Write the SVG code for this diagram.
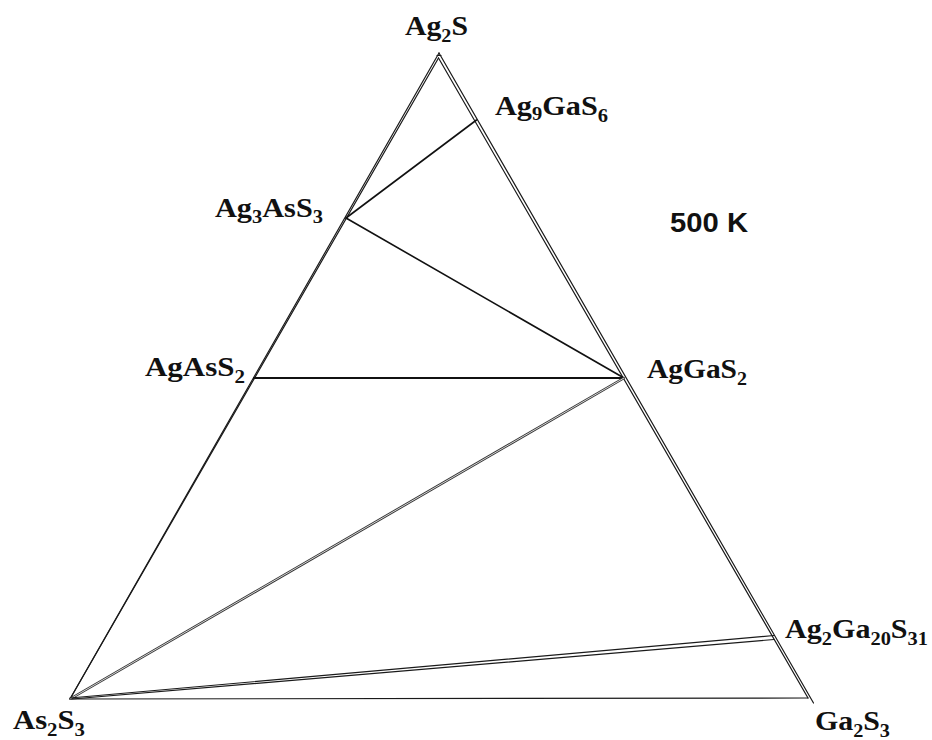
<svg xmlns="http://www.w3.org/2000/svg" width="932" height="740" viewBox="0 0 932 740">
<style>
.lbl{font-family:"Liberation Serif","Times New Roman",serif;font-weight:bold;font-size:28px;fill:#111}
.sub{font-size:19px}
.temp{font-family:"Liberation Sans",Arial,sans-serif;font-weight:bold;font-size:27px;fill:#111}
.edge{fill:none;stroke:#1a1a1a;stroke-width:1.2;stroke-linecap:round}
.tie{fill:none;stroke:#111;stroke-width:1.6;stroke-linecap:round}
.tieb{fill:none;stroke:#111;stroke-width:2.2}
.dblo{fill:none;stroke:#333;stroke-width:2.6}
.dbli{fill:none;stroke:#fff;stroke-width:0.8}
</style>
<rect width="932" height="740" fill="#fff"/>
<g id="connectors">
  <!-- triangle outer edges -->
  <path class="edge" d="M439,53 L70,699"/>
  <path class="edge" d="M439,53 L813.5,703"/>
  <!-- triangle inner edges -->
  <path class="edge" d="M438.5,58 L70,699"/>
  <path class="edge" d="M438.5,58 L808,698"/>
  <path class="edge" d="M437,55.5 L441,55.5"/>
  <!-- bottom edge -->
  <path class="edge" d="M70,699 L808,698"/>
  <!-- tie lines -->
  <path class="tie" d="M476.5,120 L346,218"/>
  <path class="tie" d="M346,218 L624,378"/>
  <path class="tieb" d="M253,378 L624,378"/>
  <path class="dblo" d="M624,378 L70,699"/>
  <path class="dbli" d="M624,378 L70,699"/>
  <path class="edge" d="M70,698 L774,635.5"/>
  <path class="edge" d="M72,699 L774,639.5"/>
</g>
<g id="Ag2S"><text class="lbl" x="405" y="35" textLength="63" lengthAdjust="spacingAndGlyphs">Ag<tspan class="sub" dy="7">2</tspan><tspan dy="-7">S</tspan></text></g>
<g id="Ag9GaS6"><text class="lbl" x="495" y="115" textLength="113" lengthAdjust="spacingAndGlyphs">Ag<tspan class="sub" dy="5">9</tspan><tspan dy="-5">GaS</tspan><tspan class="sub" dy="7">6</tspan></text></g>
<g id="Ag3AsS3"><text class="lbl" x="215" y="217" textLength="108" lengthAdjust="spacingAndGlyphs">Ag<tspan class="sub" dy="6">3</tspan><tspan dy="-6">AsS</tspan><tspan class="sub" dy="6">3</tspan></text></g>
<g id="AgAsS2"><text class="lbl" x="145" y="376" textLength="100" lengthAdjust="spacingAndGlyphs">AgAsS<tspan class="sub" dy="7">2</tspan></text></g>
<g id="AgGaS2"><text class="lbl" x="647" y="378" textLength="100" lengthAdjust="spacingAndGlyphs">AgGaS<tspan class="sub" dy="7">2</tspan></text></g>
<g id="Ag2Ga20S31"><text class="lbl" x="785" y="638" textLength="143" lengthAdjust="spacingAndGlyphs">Ag<tspan class="sub" dy="7">2</tspan><tspan dy="-7">Ga</tspan><tspan class="sub" dy="7">20</tspan><tspan dy="-7">S</tspan><tspan class="sub" dy="7">31</tspan></text></g>
<g id="As2S3"><text class="lbl" x="13" y="729" textLength="72" lengthAdjust="spacingAndGlyphs">As<tspan class="sub" dy="7">2</tspan><tspan dy="-7">S</tspan><tspan class="sub" dy="7">3</tspan></text></g>
<g id="Ga2S3"><text class="lbl" x="815" y="730" textLength="75" lengthAdjust="spacingAndGlyphs">Ga<tspan class="sub" dy="7">2</tspan><tspan dy="-7">S</tspan><tspan class="sub" dy="7">3</tspan></text></g>
<g id="temperature"><text class="temp" x="670" y="232" textLength="78" lengthAdjust="spacingAndGlyphs">500 K</text></g>
</svg>
